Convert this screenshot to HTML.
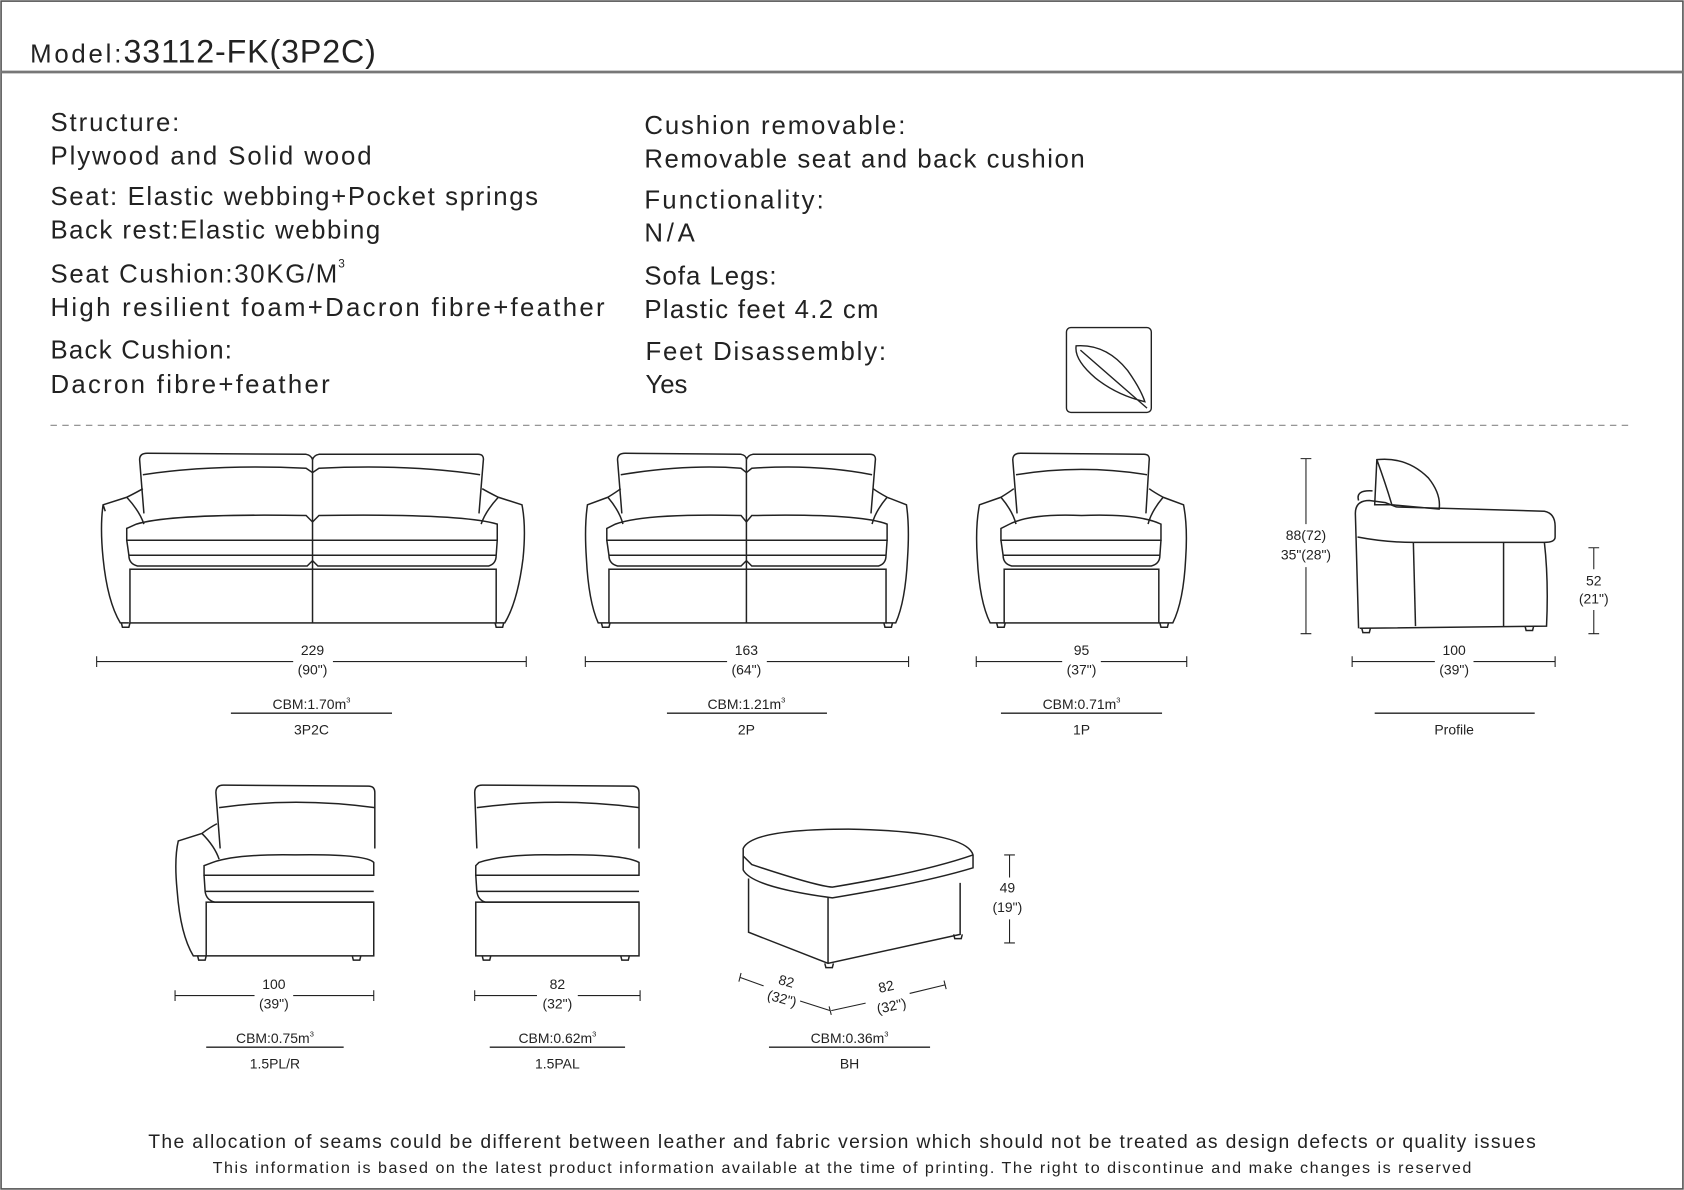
<!DOCTYPE html>
<html><head><meta charset="utf-8"><style>
html,body{margin:0;padding:0;background:#fff}
svg{display:block}
text{font-family:"Liberation Sans","DejaVu Sans",sans-serif;fill:#222}
</style></head><body>
<svg width="1684" height="1190" viewBox="0 0 1568 1108" xmlns="http://www.w3.org/2000/svg">
<rect x="1" y="1" width="1566" height="1106" fill="#fff" stroke="#555" stroke-width="1.5"/>
<line x1="1" y1="67" x2="1567" y2="67" stroke="#777" stroke-width="2.5"/>
<text x="28" y="58" font-size="24" textLength="85" lengthAdjust="spacing">Model:</text>
<text x="115" y="58" font-size="30" textLength="235" lengthAdjust="spacing">33112-FK(3P2C)</text>

<g font-size="24" lengthAdjust="spacing">
<text x="47" y="122" textLength="120" lengthAdjust="spacing">Structure:</text>
<text x="47" y="153" textLength="299" lengthAdjust="spacing">Plywood and Solid wood</text>
<text x="47" y="191" textLength="454" lengthAdjust="spacing">Seat: Elastic webbing+Pocket springs</text>
<text x="47" y="222" textLength="307" lengthAdjust="spacing">Back rest:Elastic webbing</text>
<text x="47" y="263" textLength="267" lengthAdjust="spacing">Seat Cushion:30KG/M</text>
<text x="315" y="249" font-size="11">3</text>
<text x="47" y="294" textLength="516" lengthAdjust="spacing">High resilient foam+Dacron fibre+feather</text>
<text x="47" y="334" textLength="169" lengthAdjust="spacing">Back Cushion:</text>
<text x="47" y="366" textLength="260" lengthAdjust="spacing">Dacron fibre+feather</text>
<text x="600" y="125" textLength="243" lengthAdjust="spacing">Cushion removable:</text>
<text x="600" y="156" textLength="410" lengthAdjust="spacing">Removable seat and back cushion</text>
<text x="600" y="194" textLength="167" lengthAdjust="spacing">Functionality:</text>
<text x="600" y="225" textLength="47" lengthAdjust="spacing">N/A</text>
<text x="600" y="265" textLength="123" lengthAdjust="spacing">Sofa Legs:</text>
<text x="600" y="296" textLength="218" lengthAdjust="spacing">Plastic feet 4.2 cm</text>
<text x="601" y="335" textLength="224" lengthAdjust="spacing">Feet Disassembly:</text>
<text x="601" y="366" textLength="39" lengthAdjust="spacing">Yes</text>
</g>
<rect x="993" y="305" width="79" height="79" rx="4" fill="none" stroke="#222" stroke-width="1.3"/>
<path d="M1002,322 Q1030,320 1050,345 Q1062,362 1066,374 Q1040,368 1020,352 Q1000,335 1002,322 Z M1006,326 L1068,380" fill="none" stroke="#222" stroke-width="1.3"/>
<line x1="47" y1="396" x2="1518" y2="396" stroke="#888" stroke-dasharray="6,5" stroke-width="1"/>

<g fill="none" stroke="#222" stroke-width="1.4">
<!-- 3P2C -->
<path d="M134,478 L130,428 Q130,422 137,422 L285,423 Q290,424 291,428 Q292,424 297,423 L445,423 Q451,423 450,429 L446,478"/>
<path d="M133,442 Q200,432 285,436 L291,440 L297,436 Q380,432 447,442"/>
<line x1="291" y1="428" x2="291" y2="580"/>
<path d="M127,488 Q160,478 285,480 L291,486 L297,480 Q430,478 463,488 L463,503 L118,503 L118,492 Z"/>
<path d="M118,503 L120,517 L462,517 L463,503 M120,517 Q120,525 128,527 L286,527 L291,522 L296,527 L455,527 Q462,525 462,517"/>
<rect x="121" y="530" width="341" height="50"/>
<path d="M120,580 L112,580 Q100,560 96,520 Q93,490 96,470 L118,463 Q128,458 133,455 M96,470 L98,476 M118,463 Q130,476 134,488"/>
<path d="M462,580 L470,580 Q482,560 487,520 Q490,490 486,470 L464,463 Q454,458 449,455 M464,463 Q452,476 448,488"/>
<path d="M113,580 L114,584 L120,584 L121,580 M461,580 L462,584 L468,584 L469,580"/>
<!-- 2P -->
<path d="M579,478 L575,428 Q575,422 582,422 L690,423 Q695,424 695,428 Q696,424 701,423 L810,423 Q816,423 815,429 L811,478"/>
<path d="M578,442 Q640,432 690,436 L695,440 L700,436 Q760,432 812,442"/>
<line x1="695" y1="428" x2="695" y2="580"/>
<path d="M573,488 Q600,478 690,480 L695,486 L700,480 Q800,478 826,488 L826,503 L565,503 L565,492 Z"/>
<path d="M565,503 L567,517 L825,517 L826,503 M567,517 Q567,525 575,527 L690,527 L695,522 L700,527 L818,527 Q825,525 825,517"/>
<rect x="567" y="530" width="258" height="50"/>
<path d="M567,580 L557,580 Q548,560 546,520 Q544,490 547,470 L566,463 Q574,458 578,455 M566,463 Q577,476 580,488"/>
<path d="M825,580 L834,580 Q843,560 845,520 Q847,490 844,470 L826,463 Q817,458 813,455 M826,463 Q815,476 812,488"/>
<path d="M560,580 L561,584 L567,584 L568,580 M823,580 L824,584 L830,584 L831,580"/>
<!-- 1P -->
<path d="M947,478 L943,428 Q943,422 950,422 L1065,423 Q1071,423 1070,429 L1067,478"/>
<path d="M946,442 Q1007,432 1068,442"/>
<path d="M940,488 Q960,478 1007,480 Q1060,478 1081,488 L1081,503 L932,503 L932,492 Z"/>
<path d="M932,503 L934,517 L1080,517 L1081,503 M934,517 Q934,525 942,527 L1072,527 Q1080,525 1080,517"/>
<rect x="935" y="530" width="144" height="50"/>
<path d="M935,580 L922,580 Q912,560 910,520 Q908,490 912,470 L932,463 Q940,458 944,455 M932,463 Q943,476 946,488"/>
<path d="M1079,580 L1092,580 Q1102,560 1104,520 Q1106,490 1102,470 L1083,463 Q1074,458 1070,455 M1083,463 Q1072,476 1069,488"/>
<path d="M928,580 L929,584 L935,584 L936,580 M1080,580 L1081,584 L1087,584 L1088,580"/>
<!-- Profile -->
<path d="M1280,470 L1282,428 Q1310,425 1330,445 Q1342,460 1340,474 L1296,470 Z M1282,428 Q1290,450 1296,470"/>
<path d="M1265,585 L1262,478 Q1262,466 1275,466 L1290,468 L1300,472 L1438,476 Q1448,478 1448,490 L1448,500 Q1448,505 1438,505 L1316,505 M1265,466 Q1262,456 1278,457"/>
<path d="M1264,500 Q1290,505 1316,505"/>
<path d="M1438,505 Q1442,540 1440,583 L1266,585"/>
<line x1="1316" y1="505" x2="1318" y2="583"/>
<line x1="1400" y1="505" x2="1400" y2="583"/>
<path d="M1268,585 L1269,589 L1275,589 L1276,585 M1420,583 L1421,587 L1427,587 L1428,583"/>
<!-- 1.5PL -->
<path d="M205,790 L201,738 Q201,731 208,731 L343,732 Q349,732 349,738 L349,790"/>
<path d="M204,752 Q275,742 349,752"/>
<path d="M198,803 Q220,795 275,796 Q340,795 348,803 L348,815 L190,815 L190,806 Z"/>
<path d="M190,815 L191,830 L348,830 M191,830 Q192,838 200,840 L348,840"/>
<rect x="192" y="840" width="156" height="50"/>
<path d="M192,890 L180,890 Q168,870 165,830 Q162,800 166,783 L188,776 Q196,770 202,767 M188,776 Q200,788 204,800"/>
<path d="M184,890 L185,894 L191,894 L192,890 M328,890 L329,894 L335,894 L336,890"/>
<!-- 1.5PAL -->
<path d="M444,790 L442,738 Q442,731 449,731 L589,732 Q595,732 595,738 L595,790"/>
<path d="M444,752 Q518,742 595,752"/>
<path d="M446,803 Q470,795 518,796 Q580,795 595,803 L595,815 L443,815 L443,806 Z"/>
<path d="M443,815 L444,830 L595,830 M444,830 Q445,838 452,840 L595,840"/>
<rect x="443" y="840" width="152" height="50"/>
<path d="M449,890 L450,894 L456,894 L457,890 M578,890 L579,894 L585,894 L586,890"/>
<!-- BH -->
<path d="M692,790 Q700,772 790,772 Q900,774 906,796 L906,808 Q860,822 775,836 Q700,826 692,810 Z"/>
<path d="M692,797 L700,805 Q760,825 775,826 Q860,812 906,796"/>
<path d="M697,818 L697,868 L771,897 L894,870 L894,822 M771,836 L771,897"/>
<path d="M768,897 L769,901 L775,901 L776,897 M888,870 L889,874 L895,874 L896,870"/>
</g>

<g stroke="#222" stroke-width="1" fill="none">
<path d="M90,611 V621 M90,616 H273 M310,616 H490 M490,611 V621"/>
<path d="M545,611 V621 M545,616 H677 M714,616 H846 M846,611 V621"/>
<path d="M909,611 V621 M909,616 H989 M1025,616 H1105 M1105,611 V621"/>
<path d="M1259,611 V621 M1259,616 H1336 M1372,616 H1448 M1448,611 V621"/>
<path d="M1211,427 H1221 M1216,427 V488 M1216,528 V590 M1211,590 H1221"/>
<path d="M1479,510 H1489 M1484,510 V530 M1484,568 V590 M1479,590 H1489"/>
<path d="M163,922 V932 M163,927 H237 M273,927 H348 M348,922 V932"/>
<path d="M442,922 V932 M442,927 H500 M538,927 H596 M596,922 V932"/>
<path d="M935,796 H945 M940,796 V817 M940,856 V878 M935,878 H945"/>
<path d="M690,906 L688,914 M689,910 L711,918 M745,932 L773,941 M772,937 L774,945 M774,941 L806,934 M847,925 L880,917 M879,913 L881,921"/>
<path d="M215,664 H365 M621,664 H770 M932,664 H1082 M1280,664 H1429 M192,975 H320 M456,975 H582 M716,975 H866" stroke-width="1.3"/>
</g>

<g font-size="13" text-anchor="middle">
<text x="291" y="610">229</text><text x="291" y="628">(90")</text>
<text x="695" y="610">163</text><text x="695" y="628">(64")</text>
<text x="1007" y="610">95</text><text x="1007" y="628">(37")</text>
<text x="1354" y="610">100</text><text x="1354" y="628">(39")</text>
<text x="1216" y="503">88(72)</text><text x="1216" y="521">35"(28")</text>
<text x="1484" y="545">52</text><text x="1484" y="562">(21")</text>
<text x="255" y="921">100</text><text x="255" y="939">(39")</text>
<text x="519" y="921">82</text><text x="519" y="939">(32")</text>
<text x="938" y="831">49</text><text x="938" y="849">(19")</text>
<text x="731" y="918" transform="rotate(15 731 918)">82</text><text x="727" y="934" transform="rotate(15 727 934)">(32")</text>
<text x="826" y="923" transform="rotate(-12 826 923)">82</text><text x="831" y="941" transform="rotate(-12 831 941)">(32")</text>
<text x="290" y="660">CBM:1.70m<tspan font-size="7" dy="-6">3</tspan></text><text x="290" y="684">3P2C</text>
<text x="695" y="660">CBM:1.21m<tspan font-size="7" dy="-6">3</tspan></text><text x="695" y="684">2P</text>
<text x="1007" y="660">CBM:0.71m<tspan font-size="7" dy="-6">3</tspan></text><text x="1007" y="684">1P</text>
<text x="1354" y="684">Profile</text>
<text x="256" y="971">CBM:0.75m<tspan font-size="7" dy="-6">3</tspan></text><text x="256" y="995">1.5PL/R</text>
<text x="519" y="971">CBM:0.62m<tspan font-size="7" dy="-6">3</tspan></text><text x="519" y="995">1.5PAL</text>
<text x="791" y="971">CBM:0.36m<tspan font-size="7" dy="-6">3</tspan></text><text x="791" y="995">BH</text>
</g>

<text x="138" y="1069" font-size="18" textLength="1292" lengthAdjust="spacing">The allocation of seams could be different between leather and fabric version which should not be treated as design defects or quality issues</text>
<text x="198" y="1092" font-size="15" textLength="1172" lengthAdjust="spacing">This information is based on the latest product information available at the time of printing. The right to discontinue and make changes is reserved</text>
</svg>
</body></html>
